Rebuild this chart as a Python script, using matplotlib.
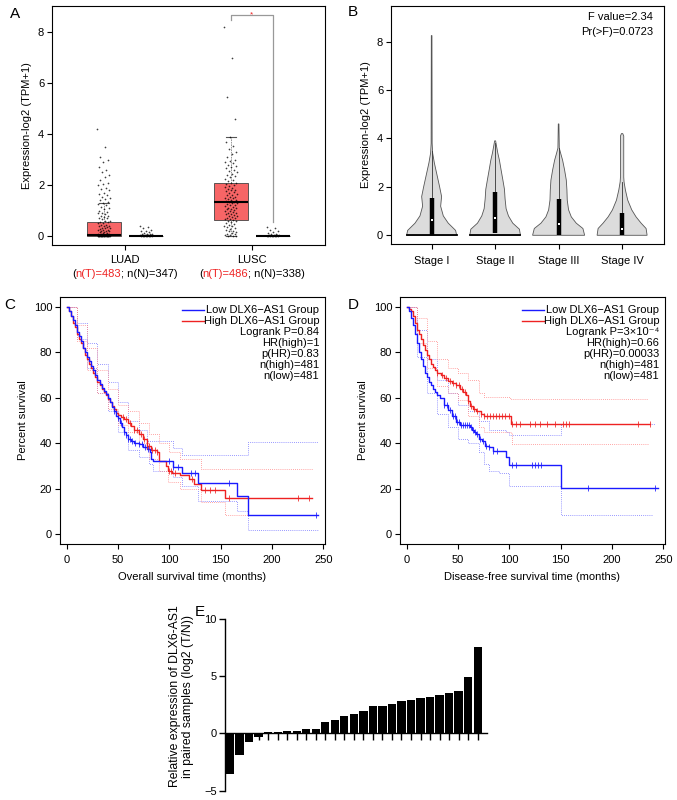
import numpy as np
import matplotlib
matplotlib.use("Agg")
import matplotlib.pyplot as plt

plt.rcParams['font.family'] = ['Liberation Sans', 'DejaVu Sans']
plt.rcParams['font.size'] = 8
plt.rcParams['axes.linewidth'] = 0.8
FS = 8

# ---------------- Panel A data ----------------
a_groups = ["LUAD", "LUSC"]
a_nT = [483, 486]
a_nN = [347, 338]
# box statistics: whislo, q1, med, q3, whishi
a_tumor_stats = [[0.0, 0.0, 0.05, 0.55, 1.28], [0.0, 0.62, 1.35, 2.08, 3.88]]
a_normal_stats = [[0.0, 0.0, 0.01, 0.02, 0.05], [0.0, 0.0, 0.01, 0.02, 0.05]]
luad_t_pts = [4.2, 3.5, 3.1, 3.0, 2.9, 2.7, 2.6, 2.5, 2.4, 2.3, 2.2, 2.1, 2.05, 2.0, 1.9,
              1.85, 1.8, 1.7, 1.65, 1.6, 1.55, 1.5, 1.45, 1.4, 1.35, 1.3, 1.25, 1.2, 1.15,
              1.1, 1.05, 1.0, 0.95, 0.9, 0.9, 0.85, 0.8, 0.8, 0.75, 0.7, 0.7, 0.65, 0.6,
              0.6, 0.55, 0.55, 0.5, 0.5, 0.45, 0.45, 0.4, 0.4, 0.38, 0.35, 0.33, 0.3, 0.3,
              0.28, 0.25, 0.25, 0.22, 0.2, 0.2, 0.18, 0.15, 0.15, 0.13, 0.12, 0.1, 0.1,
              0.08, 0.07, 0.06, 0.05, 0.05, 0.04, 0.03, 0.03, 0.02, 0.02, 0.01, 0.01,
              0.0, 0.0, 0.0, 0.0, 0.0, 0.0, 0.0, 0.0, 0.0, 0.0, 0.0, 0.0, 0.0, 0.0, 0.0, 0.0]
luad_n_pts = [0.4, 0.35, 0.3, 0.25, 0.2, 0.18, 0.15, 0.12, 0.1, 0.1, 0.08, 0.07, 0.06,
              0.05, 0.05, 0.04, 0.03, 0.03, 0.02, 0.02, 0.01, 0.01, 0.0, 0.0, 0.0, 0.0]
lusc_t_pts = [8.2, 7.0, 5.45, 4.6, 3.88, 3.7, 3.55, 3.4, 3.3, 3.2, 3.1, 3.0, 2.95, 2.9,
              2.85, 2.8, 2.75, 2.7, 2.65, 2.6, 2.55, 2.5, 2.45, 2.4, 2.35, 2.3, 2.25, 2.2,
              2.15, 2.1, 2.08, 2.05, 2.0, 1.95, 1.92, 1.9, 1.85, 1.82, 1.8, 1.75, 1.72,
              1.7, 1.65, 1.62, 1.6, 1.55, 1.52, 1.5, 1.48, 1.45, 1.42, 1.4, 1.38, 1.35,
              1.33, 1.3, 1.28, 1.25, 1.22, 1.2, 1.18, 1.15, 1.12, 1.1, 1.08, 1.05, 1.02,
              1.0, 0.98, 0.95, 0.92, 0.9, 0.88, 0.85, 0.82, 0.8, 0.78, 0.75, 0.72, 0.7,
              0.68, 0.65, 0.62, 0.6, 0.58, 0.55, 0.5, 0.48, 0.45, 0.4, 0.38, 0.35, 0.3,
              0.28, 0.25, 0.2, 0.18, 0.15, 0.12, 0.1, 0.08, 0.05, 0.03, 0.02, 0.0, 0.0]
lusc_n_pts = [0.35, 0.3, 0.25, 0.2, 0.15, 0.12, 0.1, 0.08, 0.06, 0.05, 0.04, 0.03, 0.02,
              0.02, 0.01, 0.0, 0.0, 0.0, 0.0, 0.0]
a_sig_y = 8.67
a_sig_right_bottom = 0.55

# ---------------- Panel B data ----------------
b_stages = ["Stage I", "Stage II", "Stage III", "Stage IV"]
b_prof_y = [
    [0, 0.2, 0.5, 0.8, 1.2, 1.6, 2.0, 2.5, 3.0, 3.4, 3.8, 8.25],
    [0, 0.25, 0.5, 0.8, 1.1, 1.5, 1.9, 2.3, 2.7, 3.1, 3.4, 3.7, 3.9],
    [0, 0.28, 0.5, 0.76, 1.05, 1.45, 1.87, 2.28, 2.7, 3.1, 3.4, 3.6, 4.6],
    [0, 0.28, 0.5, 0.76, 1.05, 1.45, 1.87, 2.2, 2.4, 4.1, 4.2],
]
b_prof_w = [
    [0.394, 0.378, 0.262, 0.184, 0.142, 0.157, 0.126, 0.084, 0.042, 0.016, 0.008, 0.005],
    [0.399, 0.383, 0.278, 0.21, 0.173, 0.157, 0.147, 0.121, 0.094, 0.068, 0.042, 0.021, 0.008],
    [0.41, 0.383, 0.278, 0.2, 0.157, 0.136, 0.131, 0.121, 0.094, 0.063, 0.031, 0.011, 0.005],
    [0.394, 0.378, 0.3, 0.22, 0.152, 0.089, 0.052, 0.031, 0.026, 0.026, 0.01],
]
b_q1 = [0.03, 0.1, 0.0, 0.0]
b_med = [0.62, 0.72, 0.46, 0.24]
b_q3 = [1.56, 1.79, 1.5, 0.9]
b_whi = [3.5, 3.8, 3.6, 2.2]
b_fvalue = "F value=2.34"
b_pvalue = "Pr(>F)=0.0723"

# ---------------- Panel C data ----------------
c_low_t = [0, 2, 4, 6, 8, 10, 12, 14, 16, 18, 20, 22, 24, 26, 28, 30, 32, 34, 36, 38, 40, 42,
           44, 46, 48, 50, 52, 54, 56, 58, 60, 63, 66, 70, 74, 78, 81, 82, 84, 104, 112, 128,
           166, 177]
c_low_s = [100, 98, 96, 94, 92, 89, 87, 85, 82, 80, 78, 76, 74, 72, 70, 68, 66, 64.5, 63,
           61.5, 60, 58, 56, 54, 52, 51, 49, 47, 45, 43.5, 42, 41, 40, 39.5, 38.5, 37.5, 36,
           33, 32.4, 29.7, 26.8, 22.7, 17, 8.3]
c_low_end = 245
c_high_t = [0, 2, 4, 6, 8, 10, 12, 14, 16, 18, 20, 22, 24, 26, 28, 30, 32, 34, 36, 38, 40, 42,
            44, 46, 48, 50, 53, 56, 60, 63, 66, 70, 74, 78, 82, 88, 90, 97, 99, 103, 110, 119,
            124, 131, 154]
c_high_s = [100, 98, 96, 93, 91, 88, 86, 84, 82, 79, 77, 75, 73, 71, 69, 67, 65.5, 64, 62.5,
            61, 59.5, 58, 56.5, 55, 53.5, 52.5, 51.5, 50.5, 49, 47.5, 46, 44, 42, 39, 37, 36,
            32, 30, 28, 27, 26, 24.3, 22, 19.5, 15.8]
c_high_end = 239
c_low_cens = [46, 50, 53, 56, 58, 60, 62, 64, 67, 70, 73, 76, 79, 100, 104, 108, 121, 125,
              158, 243]
c_high_cens = [55, 58, 62, 66, 69, 72, 75, 78, 80, 83, 86, 88, 100, 102, 106, 122, 135, 140,
               145, 158, 225, 236]
c_low_up_t = [0, 10, 20, 30, 40, 50, 60, 70, 78, 104, 112, 177]
c_low_up_s = [100, 93, 84, 75, 67, 58, 50, 46, 41, 38, 35, 40.5]
c_low_lo_t = [0, 10, 20, 30, 40, 50, 60, 70, 80, 84, 104, 112, 128, 166, 177]
c_low_lo_s = [100, 86, 73, 62, 54, 45, 37, 34, 31, 28, 25, 21, 14.6, 10, 1.9]
c_high_up_t = [0, 10, 20, 30, 40, 50, 60, 70, 80, 90, 100, 110, 131]
c_high_up_s = [100, 92, 82, 72, 64, 57, 54, 49, 44, 40, 36, 33, 28.5]
c_high_lo_t = [0, 10, 20, 30, 40, 50, 60, 70, 80, 90, 99, 110, 131, 154]
c_high_lo_s = [100, 85, 72, 62, 55, 48, 45, 40, 33, 28, 23, 20, 14, 8.5]
c_stats = ["Logrank P=0.84", "HR(high)=1", "p(HR)=0.83", "n(high)=481", "n(low)=481"]

# ---------------- Panel D data ----------------
d_low_t = [0, 2, 4, 6, 8, 10, 12, 14, 16, 18, 20, 22, 24, 26, 28, 30, 32, 36, 40, 44, 48, 52,
           62, 64, 66, 68, 70, 73, 76, 80, 84, 97, 100, 150]
d_low_s = [100, 98, 95, 92, 88, 84, 80, 77, 74, 71, 69, 67, 65.5, 64, 62.5, 61, 60, 57, 54.5,
           52, 49.5, 48, 47, 46, 45, 44, 42, 41, 39, 38.5, 36.5, 34, 30.5, 20.3]
d_low_end = 245
d_high_t = [0, 2, 4, 6, 8, 10, 12, 14, 16, 18, 20, 22, 24, 26, 28, 30, 33, 36, 40, 44, 48, 52,
            55, 58, 60, 62, 65, 68, 72, 75, 102]
d_high_s = [100, 99, 98, 96, 93, 90, 88, 86, 83, 81, 79, 77, 75, 73.5, 72, 71, 70, 68.5, 67.5,
            66.5, 65.5, 64, 62.5, 61, 58.5, 56.5, 55, 54, 53, 52, 48.5]
d_high_end = 237
d_low_cens = [36, 39, 42, 45, 47, 49, 51, 53, 55, 57, 59, 61, 63, 65, 67, 69, 71, 74, 77, 80,
              84, 88, 103, 107, 122, 125, 128, 131, 177, 242]
d_high_cens = [30, 34, 38, 42, 45, 48, 51, 54, 57, 60, 63, 66, 69, 72, 75, 78, 81, 84, 87, 90,
               93, 96, 100, 103, 107, 110, 120, 125, 130, 137, 145, 152, 155, 158, 225, 237]
d_low_up_t = [0, 10, 20, 30, 40, 50, 60, 70, 80, 97, 100, 150]
d_low_up_s = [100, 90, 77, 68, 62, 57, 54, 50, 46, 45, 43.5, 48.5]
d_low_lo_t = [0, 10, 20, 30, 40, 50, 60, 70, 75, 80, 90, 100, 150]
d_low_lo_s = [100, 78, 62, 53, 47, 42, 40, 36, 31, 28, 27, 21, 8.5]
d_high_up_t = [0, 10, 20, 30, 40, 50, 60, 70, 75, 100, 102]
d_high_up_s = [100, 95, 85, 77, 73, 71, 68, 62, 60.5, 60, 59.5]
d_high_lo_t = [0, 10, 20, 30, 40, 50, 60, 70, 75, 102, 103]
d_high_lo_s = [100, 84, 73, 65, 62, 59, 52, 47, 45, 44.5, 39.5]
d_stats = ["Logrank P=3×10\u207b\u2074", "HR(high)=0.66", "p(HR)=0.00033", "n(high)=481",
           "n(low)=481"]

# ---------------- Panel E data ----------------
e_values = [-3.56, -1.84, -0.76, -0.29, 0.09, 0.17, 0.2, 0.23, 0.35, 0.41, 0.96, 1.14, 1.49,
            1.66, 1.95, 2.36, 2.36, 2.59, 2.86, 2.92, 3.06, 3.18, 3.35, 3.56, 3.73, 4.9, 7.58]

W, H = 677, 800
fig = plt.figure(figsize=(W / 100, H / 100), dpi=100)


def rect(l, t, r, b):
    return [l / W, 1 - b / H, (r - l) / W, (b - t) / H]


def r_style(ax):
    ax.tick_params(direction='out', length=3.6, width=0.8, pad=2, labelsize=FS, color='black')


BLUE = '#1a1aff'
RED = '#ee2222'
BLUE_CI = '#7777ff'
RED_CI = '#ff8888'

# ================= Panel A =================
axA = fig.add_axes(rect(52, 6, 325, 245))
r_style(axA)
gx = np.arange(1, len(a_groups) + 1)
off = 0.167
bw = 0.27
t_stats = [dict(whislo=s[0], q1=s[1], med=s[2], q3=s[3], whishi=s[4]) for s in a_tumor_stats]
n_stats = [dict(whislo=s[0], q1=s[1], med=s[2], q3=s[3], whishi=s[4]) for s in a_normal_stats]
for stats, pos, fc in [(t_stats, gx - off, '#f76566'), (n_stats, gx + off, '#bbbbbb')]:
    axA.bxp(stats, positions=pos, widths=bw, showfliers=False, patch_artist=True,
            boxprops=dict(facecolor=fc, edgecolor='#444444', linewidth=0.6),
            medianprops=dict(color='black', linewidth=1.5),
            whiskerprops=dict(color='#888888', linewidth=0.6, linestyle=(0, (2, 1))),
            capprops=dict(color='#555555', linewidth=0.8), capwidths=0.08,
            manage_ticks=False, zorder=2)
for pts, pos in [(luad_t_pts, 1 - off), (luad_n_pts, 1 + off), (lusc_t_pts, 2 - off),
                 (lusc_n_pts, 2 + off)]:
    n = len(pts)
    jit = ((np.arange(n) * 0.618034) % 1.0 - 0.5) * 0.1
    axA.scatter(pos + jit, pts, s=1.5, c='black', alpha=0.75, linewidths=0, zorder=3)
# significance bracket
xl, xr = 2 - off, 2 + off
axA.plot([xl, xl, xr, xr], [a_sig_y - 0.2, a_sig_y, a_sig_y, a_sig_right_bottom],
         color='#999999', lw=0.9, zorder=1)
axA.text(2, a_sig_y, '*', color=RED, ha='center', va='center', fontsize=6)
axA.set_xlim(0.425, 2.575)
axA.set_ylim(-0.35, 9.02)
axA.set_yticks([0, 2, 4, 6, 8])
axA.set_xticks(gx)
axA.set_xticklabels([])
axA.set_ylabel('Expression-log2 (TPM+1)', labelpad=4)
trA = axA.get_xaxis_transform()
for i, g in enumerate(a_groups):
    axA.text(gx[i], -0.063, g, transform=trA, ha='center', va='center', fontsize=FS)
    full = axA.text(gx[i], -0.12, f"(n(T)={a_nT[i]}; n(N)={a_nN[i]})", transform=trA,
                    ha='center', va='center', fontsize=FS, alpha=0)
    p1 = axA.annotate("(", xy=(0, 0), xycoords=full, ha='left', va='bottom', fontsize=FS)
    p2 = axA.annotate(f"n(T)={a_nT[i]}", xy=(1, 0), xycoords=p1, ha='left', va='bottom',
                      fontsize=FS, color=RED)
    axA.annotate(f"; n(N)={a_nN[i]})", xy=(1, 0), xycoords=p2, ha='left', va='bottom',
                 fontsize=FS)
fig.text(15 / W, 1 - 14 / H, 'A', fontsize=11, ha='center', va='center')

# ================= Panel B =================
axB = fig.add_axes(rect(391, 6, 664, 244))
r_style(axB)
for i in range(len(b_stages)):
    c = i + 1
    y = np.array(b_prof_y[i])
    w = np.array(b_prof_w[i])
    yy = np.concatenate([y, y[::-1]])
    xx = np.concatenate([c - w, (c + w)[::-1]])
    axB.fill(xx, yy, facecolor='#dcdcdc', edgecolor='#555555', linewidth=0.6, zorder=1)
    if i < 2:
        axB.plot([c - w[0], c + w[0]], [0, 0], color='black', lw=1.3, zorder=2)
    axB.plot([c, c], [b_q3[i], b_whi[i]], color='#333333', lw=0.6, zorder=2)
    axB.plot([c, c], [b_q1[i], b_q3[i]], color='black', lw=3.2, solid_capstyle='butt', zorder=3)
    axB.plot([c], [b_med[i]], 's', ms=1.6, color='white', mew=0, zorder=4)
axB.set_xlim(0.36, 4.66)
axB.set_ylim(-0.36, 9.47)
axB.set_yticks([0, 2, 4, 6, 8])
axB.set_xticks(np.arange(1, 5))
axB.set_xticklabels(b_stages)
axB.tick_params(axis='x', pad=5)
axB.set_ylabel('Expression-log2 (TPM+1)', labelpad=4)
axB.text(0.96, 0.954, b_fvalue, transform=axB.transAxes, ha='right', va='center')
axB.text(0.96, 0.89, b_pvalue, transform=axB.transAxes, ha='right', va='center')
fig.text(353 / W, 1 - 12 / H, 'B', fontsize=11, ha='center', va='center')


# ================= Panels C and D =================
def km(ax, t, s, end, color, lw=1.0, ls='-'):
    ax.step(list(t) + [end], list(s) + [s[-1]], where='post', color=color, lw=lw,
            linestyle=ls)


def cens(ax, t, s, ct, color):
    t = np.array(t)
    s = np.array(s)
    idx = np.searchsorted(t, ct, side='right') - 1
    ax.plot(ct, s[idx], '|', color=color, ms=5, mew=0.7, alpha=0.8)


def km_panel(ax, low, high, lowc, highc, lowci, highci, stats, xlabel, letter, lpos):
    r_style(ax)
    for (tt, ss, e) in lowci:
        km(ax, tt, ss, e, BLUE_CI, lw=0.6, ls=(0, (1, 1.5)))
    for (tt, ss, e) in highci:
        km(ax, tt, ss, e, RED_CI, lw=0.6, ls=(0, (1, 1.5)))
    km(ax, *high, RED, lw=1.0)
    km(ax, *low, BLUE, lw=1.0)
    cens(ax, high[0], high[1], highc, RED)
    cens(ax, low[0], low[1], lowc, BLUE)
    ax.set_xlim(-6.5, 251.7)
    ax.set_ylim(-4.3, 104.3)
    ax.set_xticks([0, 50, 100, 150, 200, 250])
    ax.set_yticks([0, 20, 40, 60, 80, 100])
    ax.set_xlabel(xlabel, labelpad=5)
    ax.set_ylabel('Percent survival', labelpad=4)
    ax.tick_params(axis='x', pad=4)
    ytop = 0.947
    dy = 0.0448
    ax.plot([0.462, 0.545], [ytop, ytop], transform=ax.transAxes, color=BLUE, lw=1.0)
    ax.plot([0.462, 0.545], [ytop - dy, ytop - dy], transform=ax.transAxes, color=RED, lw=1.0)
    lines = ['Low DLX6\u2212AS1 Group', 'High DLX6\u2212AS1 Group'] + stats
    for k, txt in enumerate(lines):
        ax.text(0.978, ytop - k * dy, txt, transform=ax.transAxes, ha='right', va='center',
                fontsize=FS)
    fig.text(lpos[0] / W, 1 - lpos[1] / H, letter, fontsize=11, ha='center', va='center')


axC = fig.add_axes(rect(60, 297, 325, 544))
km_panel(axC, (c_low_t, c_low_s, c_low_end), (c_high_t, c_high_s, c_high_end),
         c_low_cens, c_high_cens,
         [(c_low_up_t, c_low_up_s, 245), (c_low_lo_t, c_low_lo_s, 245)],
         [(c_high_up_t, c_high_up_s, 240), (c_high_lo_t, c_high_lo_s, 240)],
         c_stats, 'Overall survival time (months)', 'C', (10, 305))

axD = fig.add_axes(rect(400, 297, 665, 544))
km_panel(axD, (d_low_t, d_low_s, d_low_end), (d_high_t, d_high_s, d_high_end),
         d_low_cens, d_high_cens,
         [(d_low_up_t, d_low_up_s, 242), (d_low_lo_t, d_low_lo_s, 240)],
         [(d_high_up_t, d_high_up_s, 235), (d_high_lo_t, d_high_lo_s, 235)],
         d_stats, 'Disease-free survival time (months)', 'D', (353, 305))

# ================= Panel E =================
axE = fig.add_axes(rect(225, 619, 487, 790.7))
xe = np.arange(len(e_values))
axE.bar(xe, e_values, width=0.87, color='black', zorder=2)
axE.set_xlim(-0.53, 26.98)
axE.set_ylim(-5, 10)
axE.spines['top'].set_visible(False)
axE.spines['right'].set_visible(False)
axE.spines['bottom'].set_position(('data', 0))
axE.spines['left'].set_linewidth(1.0)
axE.spines['bottom'].set_linewidth(1.0)
axE.set_yticks([-5, 0, 5, 10])
axE.set_xticks(xe)
axE.set_xticklabels([])
axE.tick_params(axis='y', direction='out', length=4, width=1.0, labelsize=FS, pad=2)
axE.tick_params(axis='x', direction='out', length=5, width=1.0)
axE.set_ylabel('Relative expression of DLX6-AS1\nin paired samples (log2 (T/N))',
               fontsize=8.8, labelpad=7, linespacing=1.15)
axE.yaxis.set_label_coords(-0.118, 0.55)
fig.text(200 / W, 1 - 612 / H, 'E', fontsize=11, ha='center', va='center')

fig.savefig('out.png', dpi=100)
